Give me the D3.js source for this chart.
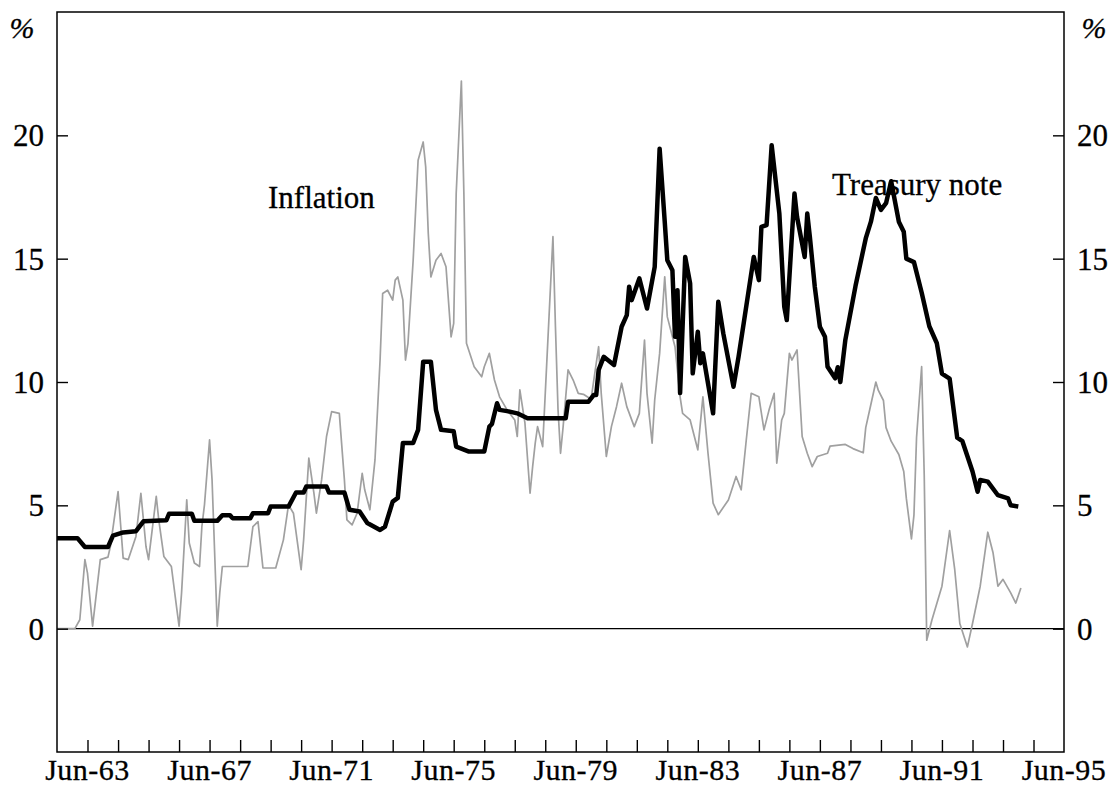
<!DOCTYPE html>
<html>
<head>
<meta charset="utf-8">
<script src="https://cdnjs.cloudflare.com/ajax/libs/d3/7.8.5/d3.min.js"></script>
<style>
  body { margin: 0; background: #fff; }
  text { font-family: "Liberation Serif", "Times New Roman", serif; fill: #000; stroke: #000; stroke-width: 0.3px; }
</style>
</head>
<body>
<div id="chart"></div>
<script>
///////////// Data //////////////
// months counted from Jun-62
var treasury_month = [0,8,11,20,22,26,31,34,43,44,53,54,63,65,68,69,76,77,83,84,91,94,97,98,106,107,113,115,119,122,127,129,132,134,136,140,142,144,147,149,151,156,157,162,168,170,171,173,174,177,181,185,200,201,209,211,212,213,215,219,222,224,225,226,229,232,235,237,239,240,242,243,244,245,247,249,250,252,253,254,258,260,262,266,268,270,274,276,277,279,281,284,286,287,290,291,294,295,296,298,300,302,303,306,307,308,310,314,318,320,322,324,326,328,331,333,334,337,340,343,346,348,351,354,356,360,362,363,366,370,374,375,378];
var treasury_value = [3.67,3.67,3.31,3.31,3.77,3.9,3.95,4.35,4.4,4.66,4.66,4.37,4.37,4.6,4.6,4.48,4.48,4.68,4.68,4.95,4.95,5.52,5.52,5.76,5.76,5.52,5.52,4.82,4.75,4.28,4.0,4.14,5.15,5.3,7.53,7.53,8.06,10.82,10.82,8.87,8.06,8.0,7.38,7.18,7.18,8.19,8.3,9.14,8.87,8.82,8.73,8.53,8.53,9.2,9.2,9.47,9.47,10.49,11.02,10.69,12.24,12.71,13.86,13.32,14.2,12.98,14.67,19.46,16.5,14.94,14.53,11.83,13.72,9.55,15.07,14.0,10.35,12.04,10.76,11.16,8.73,13.25,11.97,9.81,11.03,12.38,15.07,14.13,16.29,16.36,19.6,16.83,13.05,12.51,17.64,16.69,15.07,16.83,15.89,13.86,12.24,11.83,10.62,10.15,10.6,10.0,11.71,13.9,15.82,16.5,17.46,16.98,17.25,18.14,16.5,16.09,15.0,14.86,13.63,12.26,11.57,10.34,10.14,7.74,7.6,6.37,5.55,6.03,5.96,5.41,5.28,5.0,4.95];

var inflation_month = [0,7,9,11,12,14,17,20,21,24,26,28,31,33,35,36,39,40,42,45,47,48,49,51,52,54,56,57,58,60,61,63,64,65,75,77,79,81,86,89,91,93,96,97,99,101,102,104,106,108,111,113,114,116,118,120,121,123,125,127,128,130,132,133,134,136,137,138,140,142,144,145,146,147,149,151,153,155,156,157,159,160,161,164,167,168,170,172,174,177,180,181,182,184,186,187,188,189,191,195,196,197,198,199,201,203,205,207,210,213,214,216,218,220,222,224,227,229,231,232,234,235,237,239,240,243,245,246,249,252,254,256,258,260,264,267,269,271,273,276,278,280,282,283,285,286,288,289,291,293,295,297,299,303,304,310,313,317,318,320,322,323,325,326,328,331,333,334,336,337,338,340,341,342,344,348,351,353,355,358,360,363,366,368,370,372,375,377,379];
var inflation_value = [0,0,0.36,2.8,2.25,0.1,2.8,2.9,3.33,5.56,2.86,2.8,3.74,5.49,3.33,2.8,5.36,4.41,2.93,2.52,0.9,0.1,1.45,5.22,3.47,2.66,2.52,4.14,5.02,7.65,6.03,0.1,1.45,2.52,2.52,4.14,4.34,2.46,2.46,3.6,5.02,4.68,2.39,3.6,6.91,5.49,4.68,6.03,7.79,8.8,8.73,6.03,4.41,4.21,4.68,6.3,5.63,4.82,6.84,10.89,13.59,13.72,13.32,14.13,14.26,13.32,10.89,11.57,14.94,18.99,19.73,18.72,16.02,14.26,14.94,15.21,14.67,11.83,12.38,17.64,22.2,17.64,11.57,10.62,10.21,10.62,11.16,10.08,9.4,8.87,8.46,7.79,9.68,8.33,5.49,6.57,7.52,8.19,7.38,15.89,12.24,8.87,7.11,8.19,10.49,10.08,9.54,9.5,9.3,11.43,9.54,6.98,8.19,9.0,9.95,9.0,8.19,8.73,11.7,9.54,7.52,9.27,11.16,14.26,12.64,11.43,9.4,8.73,8.46,7.25,9.4,7.11,5.09,4.62,5.22,6.17,5.63,7.65,9.54,9.4,8.06,8.87,9.54,6.71,8.46,8.73,11.16,10.89,11.3,7.79,7.11,6.57,6.98,7.11,7.4,7.47,7.3,7.13,8.15,9.1,10.0,9.66,9.25,8.15,7.6,7.06,6.37,5.28,3.64,4.6,7.74,10.62,6.23,-0.47,0.35,1.72,3.98,2.4,0.21,-0.74,0.21,1.72,3.91,3.09,1.72,2.0,1.45,1.04,1.65];

var y_ticks = [0, 5, 10, 15, 20];
var label_years = [1963, 1967, 1971, 1975, 1979, 1983, 1987, 1991, 1995];

///////////// Layout //////////////
const svg_width = 1119, svg_height = 789;
const plot_left = 57, plot_right = 1064, plot_top = 12, plot_bottom = 752;
const start = new Date(1962, 5, 1);

var svg = d3.select('#chart').append('svg')
  .attr('width', svg_width)
  .attr('height', svg_height);

var x = d3.scaleTime()
  .domain([start, new Date(1995, 5, 1)])
  .range([plot_left, plot_right]);
var y = d3.scaleLinear()
  .domain([-5, 25])
  .range([plot_bottom, plot_top]);

function month_date(m){ return d3.timeMonth.offset(start, m); }

var treasury = treasury_month.map(function(m, i){ return {date: month_date(m), value: treasury_value[i]}; });
var inflation = inflation_month.map(function(m, i){ return {date: month_date(m), value: inflation_value[i]}; });

// zero line
svg.append('line')
  .attr('x1', plot_left).attr('x2', plot_right)
  .attr('y1', y(0)).attr('y2', y(0))
  .attr('stroke', '#000').attr('stroke-width', 1.3);

var line = d3.line()
  .x(function(d){ return x(d.date); })
  .y(function(d){ return y(d.value); });

svg.append('path')
  .datum(inflation)
  .attr('fill', 'none')
  .attr('stroke', '#a0a0a0')
  .attr('stroke-width', 1.7)
  .attr('stroke-linejoin', 'round')
  .attr('d', line);

svg.append('path')
  .datum(treasury)
  .attr('fill', 'none')
  .attr('stroke', '#000')
  .attr('stroke-width', 4.5)
  .attr('stroke-linejoin', 'round')
  .attr('d', line);

// frame
svg.append('rect')
  .attr('x', plot_left).attr('y', plot_top)
  .attr('width', plot_right - plot_left).attr('height', plot_bottom - plot_top)
  .attr('fill', 'none').attr('stroke', '#000').attr('stroke-width', 1.5);

// left axis
var left_axis = svg.append('g')
  .attr('transform', `translate(${plot_left},0)`)
  .call(d3.axisRight(y).tickValues(y_ticks).tickSize(11).tickFormat(''));
left_axis.select('.domain').remove();
left_axis.selectAll('line').attr('stroke-width', 1.4);
svg.selectAll('.ylab_left').data(y_ticks).enter().append('text')
  .attr('x', 44).attr('y', function(d){ return y(d) + 11; })
  .attr('text-anchor', 'end')
  .style('font-size', '31px')
  .text(function(d){ return d; });

// right axis
var right_axis = svg.append('g')
  .attr('transform', `translate(${plot_right},0)`)
  .call(d3.axisLeft(y).tickValues(y_ticks).tickSize(11).tickFormat(''));
right_axis.select('.domain').remove();
right_axis.selectAll('line').attr('stroke-width', 1.4);
svg.selectAll('.ylab_right').data(y_ticks).enter().append('text')
  .attr('x', 1077).attr('y', function(d){ return y(d) + 11; })
  .attr('text-anchor', 'start')
  .style('font-size', '31px')
  .text(function(d){ return d; });

// bottom axis, a tick every June
var year_ticks = d3.range(1963, 1995).map(function(yr){ return new Date(yr, 5, 1); });
var bottom_axis = svg.append('g')
  .attr('transform', `translate(0,${plot_bottom})`)
  .call(d3.axisTop(x).tickValues(year_ticks).tickSize(12).tickFormat(''));
bottom_axis.select('.domain').remove();
bottom_axis.selectAll('line').attr('stroke-width', 1.4);
svg.selectAll('.xlab').data(label_years).enter().append('text')
  .attr('x', function(d){ return x(new Date(d, 5, 1)); })
  .attr('y', 780)
  .attr('text-anchor', 'middle')
  .style('font-size', '30px')
  .style('letter-spacing', '0.5px')
  .text(function(d){ return 'Jun-' + String(d).slice(2); });

// units and series labels
svg.append('text').attr('x', 22).attr('y', 38).attr('text-anchor', 'middle')
  .style('font-size', '30px').style('font-style', 'italic').text('%');
svg.append('text').attr('x', 1094).attr('y', 38).attr('text-anchor', 'middle')
  .style('font-size', '30px').style('font-style', 'italic').text('%');
svg.append('text').attr('x', 268).attr('y', 208)
  .style('font-size', '31px').text('Inflation');
svg.append('text').attr('x', 832).attr('y', 195)
  .style('font-size', '31px').text('Treasury note');
</script>
</body>
</html>
